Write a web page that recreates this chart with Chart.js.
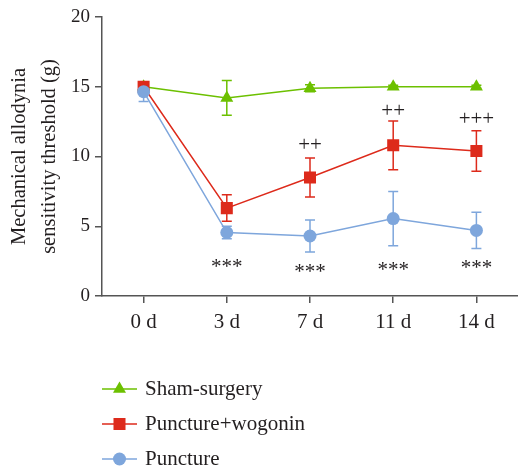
<!DOCTYPE html>
<html>
<head>
<meta charset="utf-8">
<script src="https://cdn.jsdelivr.net/npm/chart.js@4"></script>
<style>
  html, body { margin: 0; padding: 0; background: #fff; }
  #wrap { width: 518px; height: 473px; position: relative; }
</style>
</head>
<body>
<div id="wrap"><canvas id="chart"></canvas></div>
<script>
var days = ["0 d", "3 d", "7 d", "11 d", "14 d"];
var seriesNames = ["Sham-surgery", "Puncture+wogonin", "Puncture"];

var shamMean = [15, 14.2, 14.9, 15, 15];
var shamErr = [0.1, 1.25, 0.25, 0.1, 0.1];
var wogoninMean = [15, 6.3, 8.5, 10.8, 10.4];
var wogoninErr = [0.3, 0.95, 1.4, 1.75, 1.45];
var punctureMean = [14.65, 4.55, 4.3, 5.55, 4.7];
var punctureErr = [0.7, 0.45, 1.15, 1.95, 1.3];

// significance marks, placed at a y value on the chart
var starText = ["", "***", "***", "***", "***"];
var starY = [null, 2.41, 2.05, 2.2, 2.34];
var plusText = ["", "", "++", "++", "+++"];
var plusY = [null, null, 10.9, 13.36, 12.79];

var green = "#6cc000";
var red = "#dd2a1b";
var blue = "#7ea6dc";
var serif = "'Liberation Serif', 'Times New Roman', serif";
var textColor = "#231f20";

var errors = [shamErr, wogoninErr, punctureErr];

var errorBars = {
  id: "errorBars",
  beforeDatasetsDraw: function (chart) {
    var ctx = chart.ctx;
    var y = chart.scales.y;
    chart.data.datasets.forEach(function (ds, i) {
      var meta = chart.getDatasetMeta(i);
      ctx.save();
      ctx.strokeStyle = ds.borderColor;
      ctx.lineWidth = 1.5;
      meta.data.forEach(function (pt, j) {
        var v = ds.data[j];
        var e = errors[i][j];
        var top = y.getPixelForValue(v + e);
        var bot = y.getPixelForValue(v - e);
        ctx.beginPath();
        ctx.moveTo(pt.x, top); ctx.lineTo(pt.x, bot);
        ctx.moveTo(pt.x - 5, top); ctx.lineTo(pt.x + 5, top);
        ctx.moveTo(pt.x - 5, bot); ctx.lineTo(pt.x + 5, bot);
        ctx.stroke();
      });
      ctx.restore();
    });
  }
};

var marks = {
  id: "marks",
  afterDatasetsDraw: function (chart) {
    var ctx = chart.ctx;
    var x = chart.scales.x;
    var y = chart.scales.y;
    ctx.save();
    ctx.fillStyle = textColor;
    ctx.font = "21px " + serif;
    ctx.textAlign = "center";
    ctx.textBaseline = "middle";
    days.forEach(function (d, i) {
      var px = x.getPixelForValue(i);
      // asterisks sit high in the glyph box, nudge them down
      if (starText[i]) ctx.fillText(starText[i], px, y.getPixelForValue(starY[i]) + 5);
      if (plusText[i]) ctx.fillText(plusText[i], px, y.getPixelForValue(plusY[i]) + 2);
    });
    ctx.restore();
  }
};

// vertical legend under the plot
var sideLegend = {
  id: "sideLegend",
  afterDraw: function (chart) {
    var ctx = chart.ctx;
    var left = chart.chartArea.left;
    var top = chart.chartArea.bottom + 93;
    ctx.save();
    chart.data.datasets.forEach(function (ds, i) {
      var cy = top + i * 35;
      ctx.strokeStyle = ds.borderColor;
      ctx.lineWidth = 1.5;
      ctx.beginPath();
      ctx.moveTo(left, cy); ctx.lineTo(left + 35, cy);
      ctx.stroke();
      ctx.fillStyle = ds.pointBackgroundColor;
      ctx.strokeStyle = ds.pointBackgroundColor;
      Chart.helpers.drawPoint(ctx, {
        pointStyle: ds.pointStyle, radius: ds.pointRadius, borderWidth: 0
      }, left + 17.5, cy);
      ctx.fillStyle = textColor;
      ctx.font = "21px " + serif;
      ctx.textAlign = "left";
      ctx.textBaseline = "middle";
      ctx.fillText(ds.label, left + 43, cy);
    });
    ctx.restore();
  }
};

function makeSet(label, data, color, style, r, order) {
  return {
    label: label,
    data: data,
    borderColor: color,
    backgroundColor: color,
    pointBackgroundColor: color,
    pointBorderColor: color,
    pointBorderWidth: 0,
    pointStyle: style,
    pointRadius: r,
    pointHoverRadius: r,
    borderWidth: 1.5,
    tension: 0,
    order: order
  };
}

var chart = new Chart(document.getElementById("chart").getContext("2d"), {
  type: "line",
  data: {
    labels: days,
    datasets: [
      makeSet(seriesNames[0], shamMean, green, "triangle", 7.5, 3),
      makeSet(seriesNames[1], wogoninMean, red, "rect", 8.5, 2),
      makeSet(seriesNames[2], punctureMean, blue, "circle", 6.5, 1)
    ]
  },
  options: {
    responsive: true,
    maintainAspectRatio: false,
    animation: false,
    layout: { autoPadding: false, padding: { top: 17, left: 0, right: -3, bottom: 137 } },
    plugins: {
      legend: { display: false },
      tooltip: { enabled: false }
    },
    scales: {
      x: {
        offset: true,
        grid: { display: true, drawOnChartArea: false, drawTicks: true, tickLength: 7, color: "#555", lineWidth: 1.5, offset: false },
        border: { color: "#555", width: 1.5 },
        ticks: { color: textColor, font: { family: serif, size: 21 }, padding: 7 },
        afterFit: function (s) { s.height = 40; s.paddingLeft = 0; s.paddingRight = 0; }
      },
      y: {
        min: 0,
        max: 20,
        grid: { display: true, drawOnChartArea: false, drawTicks: true, tickLength: 7, color: "#555", lineWidth: 1.5 },
        border: { color: "#555", width: 1.5 },
        ticks: { stepSize: 5, color: textColor, font: { family: serif, size: 19 }, padding: 5 },
        title: {
          display: true,
          text: ["Mechanical allodynia", "sensitivity threshold (g)"],
          color: textColor,
          font: { family: serif, size: 20.5, lineHeight: 1.45 },
          padding: { top: 5, bottom: 0 }
        },
        afterFit: function (s) { s.width = 102; }
      }
    }
  },
  plugins: [errorBars, marks, sideLegend]
});
</script>
</body>
</html>
